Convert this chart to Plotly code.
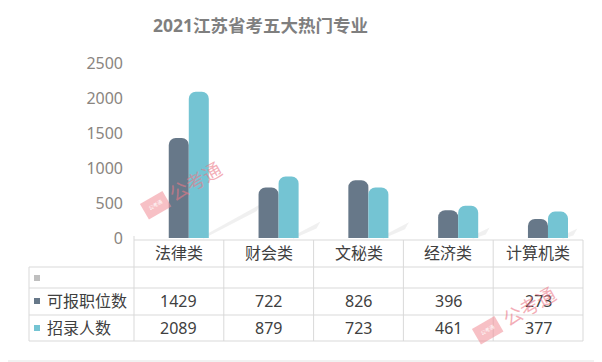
import plotly.graph_objects as go

# The page body has an 8px margin, so the figure is sized to fit inside the
# 602x362 window and all reference pixel positions are shifted by that margin.
OFF = 8
W, H = 602 - OFF, 362 - OFF

categories = ["法律类", "财会类", "文秘类", "经济类", "计算机类"]
series_names = ["可报职位数", "招录人数"]
positions = [1429, 722, 826, 396, 273]
recruits = [2089, 879, 723, 461, 377]
y_ticks = [0, 500, 1000, 1500, 2000, 2500]
title_text = "2021江苏省考五大热门专业"
watermark = "公考通"

colors = ["#677889", "#74c4d3"]
FONT = "Noto Sans, Noto Sans CJK SC, sans-serif"
TXT = "#404040"
GRID = "#d9d9d9"


def px(x):
    return (x - OFF) / W


def py(y):
    return 1 - (y - OFF) / H


# layout geometry (reference pixels)
plot_left, plot_right = 134, 583
zero_y, top_y = 238, 63
col_w = (plot_right - plot_left) / len(categories)
bar_w = 0.223
shift = 0.11

fig = go.Figure()
for name, vals, c, off in zip(series_names, [positions, recruits], colors, [-bar_w, 0]):
    fig.add_trace(go.Bar(
        x=list(range(len(categories))), y=vals, name=name,
        marker=dict(color=c, line=dict(width=0), cornerradius=7),
        width=bar_w, offset=off, showlegend=False,
        hovertemplate="%{y}<extra>" + name + "</extra>",
    ))

fig.update_layout(
    template="none",
    width=W, height=H, autosize=False,
    margin=dict(l=0, r=0, t=0, b=0, pad=0),
    paper_bgcolor="white", plot_bgcolor="white",
    showlegend=False,
    xaxis=dict(domain=[px(plot_left), px(plot_right)],
               range=[-0.5 - shift, len(categories) - 0.5 - shift],
               showticklabels=False, showgrid=False, zeroline=False, showline=False,
               ticks="", automargin=False),
    yaxis=dict(domain=[py(zero_y), py(top_y)], range=[0, 2500],
               tickvals=y_ticks, ticktext=[str(v) for v in y_ticks],
               showgrid=False, zeroline=False, showline=False, ticks="",
               ticklabelstandoff=10, automargin=False,
               tickfont=dict(family=FONT, size=16, color="#8a8580")),
    font=dict(family=FONT),
)

shapes = []
# soft drop shadows behind each bar pair (decorative, scaled by group height)
max_v = max(max(positions), max(recruits))
for i in range(len(categories)):
    h = max(positions[i], recruits[i]) / max_v
    gx = plot_left + (i + 0.5 + shift) * col_w + bar_w * col_w  # right edge of group
    x0, y0 = gx - 2, 234
    x1, y1 = gx + 52 * h, 234 - 30 * h
    path = (f"M {px(x0)} {py(y0)} L {px(x1)} {py(y1)} "
            f"L {px(x1 - 4)} {py(y1 + 7)} L {px(x0 - 4)} {py(y0 + 5)} Z")
    shapes.append(dict(type="path", xref="paper", yref="paper", path=path,
                       fillcolor="rgba(0,0,0,0.06)", line=dict(width=0), layer="below"))
# outer border (right and bottom edges are inside the window)
shapes.append(dict(type="line", xref="paper", yref="paper",
                   x0=px(600), x1=px(600), y0=py(361), y1=1,
                   line=dict(color="#e3e3e3", width=1)))
shapes.append(dict(type="line", xref="paper", yref="paper",
                   x0=0, x1=px(600), y0=py(361), y1=py(361),
                   line=dict(color="#e3e3e3", width=1)))
# table horizontal lines
shapes.append(dict(type="line", xref="paper", yref="paper",
                   x0=px(plot_left), x1=px(plot_right), y0=py(240), y1=py(240),
                   line=dict(color=GRID, width=1)))
for yy in [267, 288, 315, 341]:
    shapes.append(dict(type="line", xref="paper", yref="paper",
                       x0=px(29), x1=px(plot_right), y0=py(yy), y1=py(yy),
                       line=dict(color=GRID, width=1)))
# table vertical lines
shapes.append(dict(type="line", xref="paper", yref="paper",
                   x0=px(29), x1=px(29), y0=py(267), y1=py(341),
                   line=dict(color=GRID, width=1)))
for i in range(len(categories) + 1):
    xx = plot_left + i * col_w
    shapes.append(dict(type="line", xref="paper", yref="paper",
                       x0=px(xx), x1=px(xx), y0=py(236 if i == 0 else 240), y1=py(341),
                       line=dict(color=GRID, width=1)))
# legend squares
for yy, c in [(278, "#bfbfbf"), (301, colors[0]), (328, colors[1])]:
    shapes.append(dict(type="rect", xref="paper", yref="paper",
                       x0=px(34), x1=px(40), y0=py(yy + 3), y1=py(yy - 3),
                       fillcolor=c, line=dict(width=0)))


def label(text, x, y, size=16, color=TXT, xanchor="center", **kw):
    return dict(text=text, xref="paper", yref="paper", x=px(x), y=py(y),
                xanchor=xanchor, yanchor="middle", showarrow=False,
                font=dict(family=FONT, size=size, color=color), **kw)


annotations = [label("<b>" + title_text + "</b>", 260, 25, size=17.5, color="#7f7f7f")]
for i, cat in enumerate(categories):
    cx = plot_left + (i + 0.5) * col_w
    annotations.append(label(cat, cx, 253))
    annotations.append(label(str(positions[i]), cx, 301))
    annotations.append(label(str(recruits[i]), cx, 328))
for yy, name in [(301, series_names[0]), (328, series_names[1])]:
    annotations.append(label(name, 45, yy, xanchor="left"))

# watermarks
for (lx, ly), (tx, ty) in [((155, 205), (195, 182)), ((487, 330), (529, 307))]:
    annotations.append(label(watermark, lx, ly, size=5, color="white", textangle=-30,
                             bgcolor="rgba(240,140,150,0.55)", borderpad=5))
    annotations.append(label(watermark, tx, ty, size=19, color="rgba(235,120,135,0.6)",
                             textangle=-30))

fig.update_layout(shapes=shapes, annotations=annotations)
fig.write_html("out.html")
